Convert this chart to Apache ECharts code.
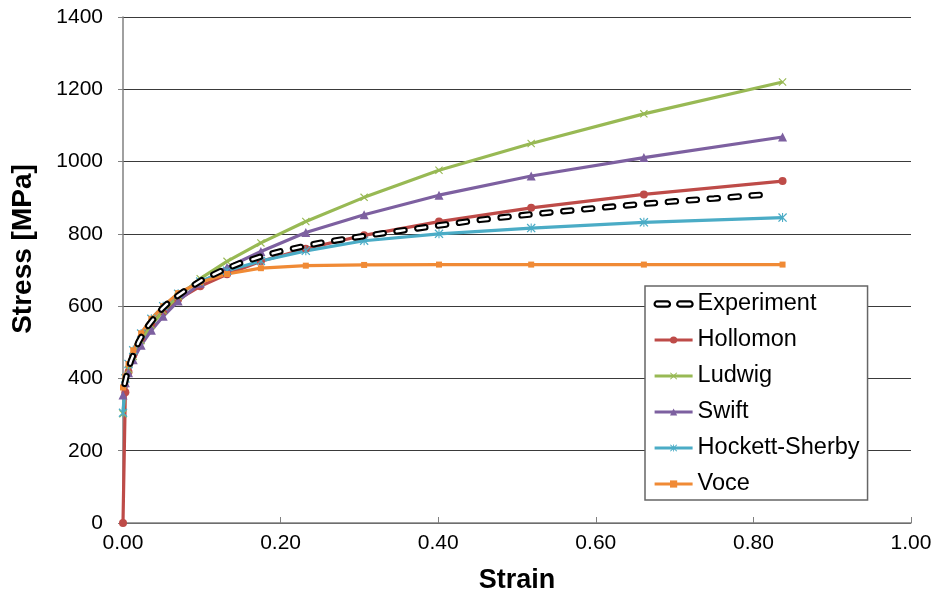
<!DOCTYPE html>
<html>
<head>
<meta charset="utf-8">
<script src="https://cdn.jsdelivr.net/npm/echarts@6/dist/echarts.min.js"></script>
<style>
html,body{margin:0;padding:0;background:#fff;}
#chart{width:939px;height:599px;}
</style>
</head>
<body>
<div id="chart"></div>
<script>
// ---- data ----
const xTicks = ['0.00', '0.20', '0.40', '0.60', '0.80', '1.00'];
const yTicks = [0, 200, 400, 600, 800, 1000, 1200, 1400];

const modelStrain = [0, 0.003, 0.007, 0.013, 0.023, 0.036, 0.051, 0.070, 0.098, 0.132, 0.175, 0.232, 0.306, 0.401, 0.518, 0.661, 0.837];
const hollomon = [0, 362, 418, 464, 512, 552, 586, 619, 655, 688, 724, 759, 796, 834, 872, 909, 946];
const ludwig   = [302, 387, 425, 461, 505, 547, 587, 627, 676, 724, 775, 834, 901, 976, 1050, 1132, 1220];
const swift    = [354, 388, 416, 452, 492, 533, 572, 614, 663, 707, 751, 804, 853, 907, 960, 1011, 1068];
const hockett  = [305, 400, 440, 478, 524, 565, 600, 634, 668, 698, 725, 753, 781, 800, 816, 832, 845];
const voce     = [375, 405, 440, 478, 525, 565, 600, 636, 666, 689, 705, 712, 714, 715, 715, 715, 715];

const expStrain = [0.002, 0.005, 0.01, 0.02, 0.03, 0.04, 0.05, 0.06, 0.08, 0.10, 0.125, 0.15, 0.175, 0.2, 0.25, 0.3, 0.35, 0.4, 0.45, 0.5, 0.55, 0.6, 0.65, 0.7, 0.75, 0.81];
const experiment = [385, 412, 448, 502, 540, 568, 594, 614, 645, 672, 698, 720, 737, 752, 775, 792, 808, 823, 838, 850, 861, 871, 881, 890, 898, 908];

const seriesNames = ['Experiment', 'Hollomon', 'Ludwig', 'Swift', 'Hockett-Sherby', 'Voce'];

// ---- build ----
const pair = (xs, ys) => xs.map((x, i) => [x, ys[i]]);
const FONT = 'Liberation Sans, Arial, sans-serif';
const crossPath = 'path://M0,1L1,0L5,4L9,0L10,1L6,5L10,9L9,10L5,6L1,10L0,9L4,5Z';
const starPath = 'path://M4.4,0H5.6V10H4.4Z M0,1L1,0L5,4L9,0L10,1L6,5L10,9L9,10L5,6L1,10L0,9L4,5Z';
const expIcon = 'path://M2,0H12A2,2 0 0 1 12,5H2A2,2 0 0 1 2,0Z M24,0H34A2,2 0 0 1 34,5H24A2,2 0 0 1 24,0Z';

function model(name, data, color, symbol, size) {
  return {
    name: name, type: 'line', data: pair(modelStrain, data),
    symbol: symbol, symbolSize: size, showSymbol: true,
    lineStyle: { color: color, width: 3.2 },
    itemStyle: { color: color },
    z: 3
  };
}

const legendData = seriesNames.map(n => n === 'Experiment'
  ? { name: n, icon: expIcon, itemStyle: { color: '#fff', borderColor: '#000', borderWidth: 2.2 } }
  : { name: n });

const chart = echarts.init(document.getElementById('chart'));
chart.setOption({
  animation: false,
  backgroundColor: '#fff',
  textStyle: { fontFamily: FONT },
  grid: { left: 123, right: 28, top: 17, bottom: 74 },
  xAxis: {
    type: 'value', min: 0, max: 1, interval: 0.2,
    name: 'Strain', nameLocation: 'middle', nameGap: 44,
    nameTextStyle: { fontFamily: FONT, fontSize: 27, fontWeight: 'bold', color: '#000' },
    axisLine: { show: true, lineStyle: { color: '#808080', width: 1.5 } },
    axisTick: { show: true, inside: true, length: 6, lineStyle: { color: '#808080' } },
    axisLabel: { fontFamily: FONT, fontSize: 21, color: '#000', margin: 10,
      formatter: v => xTicks[Math.round(v / 0.2)] },
    splitLine: { show: false }
  },
  yAxis: {
    type: 'value', min: 0, max: 1400, interval: 200,
    name: 'Stress [MPa]', nameLocation: 'middle', nameGap: 86, nameRotate: 90,
    nameTextStyle: { fontFamily: FONT, fontSize: 28, fontWeight: 'bold', color: '#000', padding: [0, 0, 0, 42] },
    axisLine: { show: true, lineStyle: { color: '#808080', width: 1.5 } },
    axisTick: { show: true, inside: false, length: 5, lineStyle: { color: '#808080' } },
    axisLabel: { fontFamily: FONT, fontSize: 21, color: '#000', margin: 20,
      formatter: v => String(yTicks[Math.round(v / 200)]) },
    splitLine: { show: true, lineStyle: { color: '#3a3a3a', width: 1 } }
  },
  legend: {
    data: legendData,
    orient: 'vertical', left: 645, top: 286,
    backgroundColor: '#fff',
    borderColor: '#666', borderWidth: 1.5, borderRadius: 0,
    padding: [5, 8, 3, 8],
    itemWidth: 38, itemHeight: 9, itemGap: 10,
    lineStyle: { width: 3.2 },
    textStyle: { fontFamily: FONT, fontSize: 23.5, color: '#000', lineHeight: 26 }
  },
  series: [
    {
      name: 'Experiment', type: 'line', data: pair(expStrain, experiment),
      showSymbol: false, symbol: 'none',
      lineStyle: { color: '#000', width: 6.5, type: [8, 13], cap: 'round' },
      itemStyle: { color: '#000' }, z: 4
    },
    {
      name: 'ExperimentInner', type: 'line', data: pair(expStrain, experiment),
      showSymbol: false, symbol: 'none', silent: true,
      lineStyle: { color: '#fff', width: 2.4, type: [8, 13], cap: 'round' },
      itemStyle: { color: '#fff' }, z: 5
    },
    model('Hollomon', hollomon, '#BE4B48', 'circle', 8),
    model('Ludwig', ludwig, '#98B954', crossPath, 8),
    model('Swift', swift, '#7D60A0', 'triangle', 9),
    model('Hockett-Sherby', hockett, '#4BACC6', starPath, 9),
    model('Voce', voce, '#F08A35', 'rect', 6)
  ]
});
</script>
</body>
</html>
